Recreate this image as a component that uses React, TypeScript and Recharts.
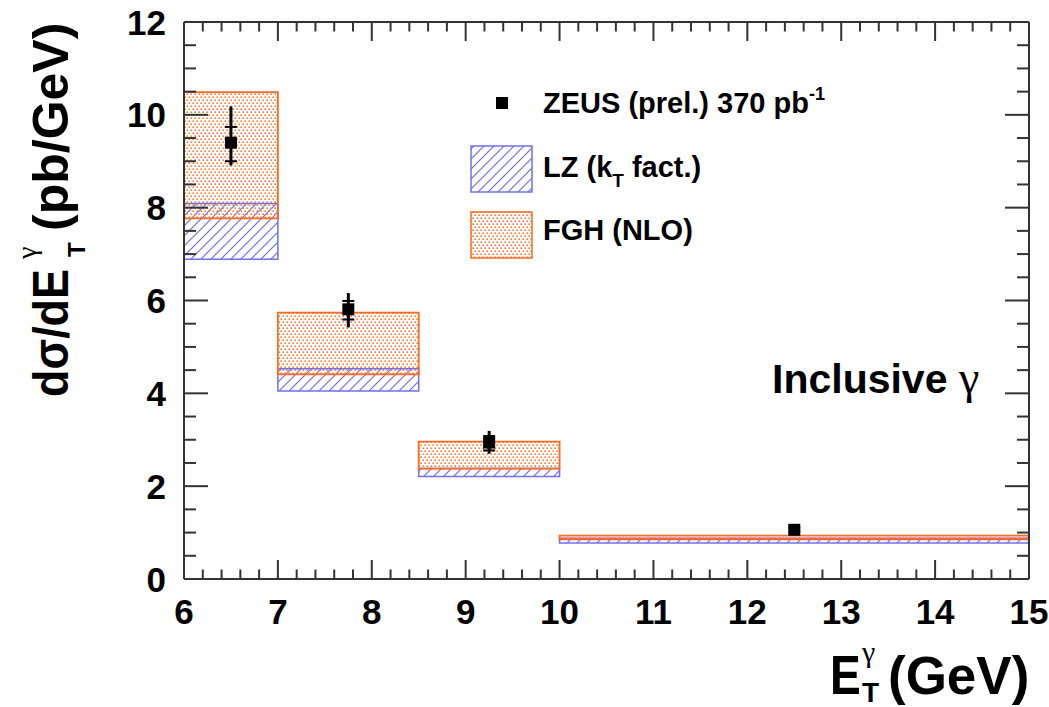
import React from 'react';
import { ComposedChart, XAxis, YAxis, Scatter, ErrorBar, ReferenceArea, Legend } from 'recharts';

// ---- data ----
const binLow = [6, 7, 8.5, 10];
const binHigh = [7, 8.5, 10, 15];
const fghLow = [7.77, 4.41, 2.38, 0.855];
const fghHigh = [10.49, 5.74, 2.96, 0.935];
const lzLow = [6.89, 4.05, 2.21, 0.776];
const lzHigh = [8.09, 4.53, 2.38, 0.877];
const zeusX = [6.5, 7.75, 9.25, 12.5];
const zeusY = [9.4, 5.81, 2.94, 1.06];
const statDown = [0.4, 0.22, 0.17, 0.04];
const statUp = [0.34, 0.18, 0.14, 0.04];
const totDown = [0.49, 0.39, 0.24, 0.06];
const totUp = [0.78, 0.35, 0.25, 0.06];
const xMajorTicks = [6, 7, 8, 9, 10, 11, 12, 13, 14, 15];
const yMajorTicks = [0, 2, 4, 6, 8, 10, 12];
const xMinorDiv = 5;
const yMinorDiv = 4;

function withMinor(majors: number[], div: number) {
  const out: number[] = [];
  for (let i = 0; i < majors.length - 1; i++) {
    const a = majors[i];
    const b = majors[i + 1];
    for (let k = 0; k < div; k++) out.push(+(a + ((b - a) * k) / div).toFixed(4));
  }
  out.push(majors[majors.length - 1]);
  return out;
}
const xTicks = withMinor(xMajorTicks, xMinorDiv);
const yTicks = withMinor(yMajorTicks, yMinorDiv);
const isMajor = (v: number, majors: number[]) => majors.some((m) => Math.abs(m - v) < 1e-6);

const zeusData = zeusX.map((x, i) => ({
  x,
  y: zeusY[i],
  stat: [statDown[i], statUp[i]],
  tot: [totDown[i], totUp[i]],
}));

const FONT = '"Liberation Sans", Arial, Helvetica, sans-serif';
const SERIF = '"Liberation Serif", "DejaVu Serif", serif';
const AXIS = '#333';
const ORANGE = '#ff6a1f';
const ORANGE_DOT = '#ff7a33';
const BLUE = '#7070ee';
const BLUE_HATCH = '#6c6cf5';

const XMAJ = 19;
const XMIN = 9.5;
const YMAJ = 24;
const YMIN = 12;

function BottomTick(p: any) {
  const { x, y, payload } = p;
  const v = payload.value;
  const major = isMajor(v, xMajorTicks);
  return (
    <g>
      <line x1={x} x2={x} y1={y} y2={y - (major ? XMAJ : XMIN)} stroke={AXIS} strokeWidth={2} />
      {major && (
        <text x={x} y={y + 44.5} textAnchor="middle" fontSize={35} fontWeight="bold" fill="#000" fontFamily={FONT}>
          {v}
        </text>
      )}
    </g>
  );
}
function TopTick(p: any) {
  const { x, y, payload } = p;
  const major = isMajor(payload.value, xMajorTicks);
  return <line x1={x} x2={x} y1={y} y2={y + (major ? XMAJ : XMIN)} stroke={AXIS} strokeWidth={2} />;
}
function LeftTick(p: any) {
  const { x, y, payload } = p;
  const v = payload.value;
  const major = isMajor(v, yMajorTicks);
  return (
    <g>
      <line x1={x} x2={x + (major ? YMAJ : YMIN)} y1={y} y2={y} stroke={AXIS} strokeWidth={2} />
      {major && (
        <text x={x - 18} y={y + 12.5} textAnchor="end" fontSize={35} fontWeight="bold" fill="#000" fontFamily={FONT}>
          {v}
        </text>
      )}
    </g>
  );
}
function RightTick(p: any) {
  const { x, y, payload } = p;
  const major = isMajor(payload.value, yMajorTicks);
  return <line x1={x} x2={x - (major ? YMAJ : YMIN)} y1={y} y2={y} stroke={AXIS} strokeWidth={2} />;
}

function Patterns({ suffix }: { suffix: string }) {
  return (
    <defs>
      <pattern id={'hatch' + suffix} patternUnits="userSpaceOnUse" width={10} height={10}>
        <path d="M0,10 L10,0 M-2,2 L2,-2 M8,12 L12,8" stroke={BLUE_HATCH} strokeWidth={1.2} />
      </pattern>
      <pattern id={'dots' + suffix} patternUnits="userSpaceOnUse" width={4} height={6}>
        <rect x={0.4} y={0.4} width={1.6} height={1.6} fill={ORANGE_DOT} />
        <rect x={2.4} y={3.4} width={1.6} height={1.6} fill={ORANGE_DOT} />
      </pattern>
    </defs>
  );
}

function LegendBox() {
  return (
    <svg width={420} height={200} style={{ display: 'block', overflow: 'visible' }} fontFamily={FONT}>
      <Patterns suffix="L" />
      <rect x={46} y={27} width={12} height={12} fill="#000" />
      <text x={93} y={43} fontSize={29} fontWeight="bold" fill="#000">
        ZEUS (prel.) 370 pb
        <tspan fontSize={18} dy={-13}>-1</tspan>
      </text>
      <rect x={21} y={76} width={61} height={46} fill="url(#hatchL)" stroke={BLUE} strokeWidth={1.5} />
      <text x={93} y={107} fontSize={29} fontWeight="bold" fill="#000">
        LZ (k
        <tspan fontSize={19} dy={10}>T</tspan>
        <tspan fontSize={29} dy={-10}> fact.)</tspan>
      </text>
      <rect x={21} y={142} width={61} height={46} fill="url(#dotsL)" stroke={ORANGE} strokeWidth={1.5} />
      <text x={93} y={170} fontSize={29} fontWeight="bold" fill="#000">
        FGH (NLO)
      </text>
    </svg>
  );
}

export default function App() {
  return (
    <div style={{ position: 'absolute', left: 0, top: 0, width: 1049, height: 707, background: '#fff' }}>
      <ComposedChart
        width={1049}
        height={707}
        margin={{ top: 21, right: 19, bottom: 68, left: 0 }}
        data={zeusData}
        style={{ fontFamily: FONT }}
      >
        <Patterns suffix="C" />
        <XAxis
          xAxisId="b"
          dataKey="x"
          type="number"
          domain={[6, 15]}
          allowDataOverflow
          ticks={xTicks}
          interval={0}
          tickSize={0}
          tickMargin={0}
          height={60}
          axisLine={{ stroke: AXIS, strokeWidth: 2 }}
          tickLine={false}
          tick={(p: any) => <BottomTick {...p} />}
        />
        <XAxis
          xAxisId="t"
          orientation="top"
          type="number"
          dataKey="x"
          domain={[6, 15]}
          allowDataOverflow
          ticks={xTicks}
          interval={0}
          tickSize={0}
          tickMargin={0}
          height={1}
          axisLine={{ stroke: AXIS, strokeWidth: 2 }}
          tickLine={false}
          tick={(p: any) => <TopTick {...p} />}
        />
        <YAxis
          yAxisId="l"
          type="number"
          domain={[0, 12]}
          allowDataOverflow
          ticks={yTicks}
          interval={0}
          tickSize={0}
          tickMargin={0}
          width={184}
          axisLine={{ stroke: AXIS, strokeWidth: 2 }}
          tickLine={false}
          tick={(p: any) => <LeftTick {...p} />}
        />
        <YAxis
          yAxisId="r"
          orientation="right"
          type="number"
          domain={[0, 12]}
          allowDataOverflow
          ticks={yTicks}
          interval={0}
          tickSize={0}
          tickMargin={0}
          width={1}
          axisLine={{ stroke: AXIS, strokeWidth: 2 }}
          tickLine={false}
          tick={(p: any) => <RightTick {...p} />}
        />
        {binLow.map((lo, i) => (
          <ReferenceArea
            key={'lz' + i}
            xAxisId="b"
            yAxisId="l"
            x1={lo}
            x2={binHigh[i]}
            y1={lzLow[i]}
            y2={lzHigh[i]}
            fill="url(#hatchC)"
            fillOpacity={1}
            stroke={BLUE}
            strokeWidth={1.5}
            ifOverflow="visible"
          />
        ))}
        {binLow.map((lo, i) => (
          <ReferenceArea
            key={'fgh' + i}
            xAxisId="b"
            yAxisId="l"
            x1={lo}
            x2={binHigh[i]}
            y1={fghLow[i]}
            y2={fghHigh[i]}
            fill="url(#dotsC)"
            fillOpacity={1}
            stroke={ORANGE}
            strokeWidth={1.8}
            ifOverflow="visible"
          />
        ))}
        <Scatter
          name="ZEUS (prel.) 370 pb-1"
          xAxisId="b"
          yAxisId="l"
          data={zeusData}
          dataKey="y"
          isAnimationActive={false}
          shape={(p: any) => <rect x={p.cx - 6} y={p.cy - 6} width={12} height={12} fill="#000" />}
        >
          <ErrorBar dataKey="tot" direction="y" width={0} stroke="#000" strokeWidth={3} isAnimationActive={false} />
          <ErrorBar dataKey="stat" direction="y" width={6} stroke="#000" strokeWidth={2} isAnimationActive={false} />
        </Scatter>
        <Legend
          layout="vertical"
          verticalAlign="middle"
          align="center"
          wrapperStyle={{ left: 450, top: 70, width: 420, height: 200 }}
          content={() => <LegendBox />}
        />
        <text x={772} y={393} fontSize={41} fontWeight="bold" fill="#000" fontFamily={FONT}>
          Inclusive{' '}
          <tspan fontFamily={SERIF} fontWeight="normal" fontSize={46}>
            γ
          </tspan>
        </text>
        <g fontFamily={FONT} fill="#000">
          <text transform="translate(830,694) scale(0.84,1)" x={0} y={0} fontSize={55} fontWeight="bold">E</text>
          <text x={862} y={662} fontSize={30} fontFamily={SERIF}>γ</text>
          <text x={862} y={702} fontSize={28} fontWeight="bold">T</text>
          <text x={888} y={694} fontSize={53} fontWeight="bold">(GeV)</text>
        </g>
        <g transform="translate(68,397) rotate(-90)" fontFamily={FONT} fill="#000">
          <text x={0} y={0} fontSize={50} fontWeight="bold" textLength={128} lengthAdjust="spacingAndGlyphs">
            dσ/dE
          </text>
          <text x={140} y={17} fontSize={24} fontWeight="bold">T</text>
          <text x={138} y={-32} fontSize={28} fontFamily={SERIF}>γ</text>
          <text x={166} y={0} fontSize={50} fontWeight="bold">(pb/GeV)</text>
        </g>
      </ComposedChart>
    </div>
  );
}
